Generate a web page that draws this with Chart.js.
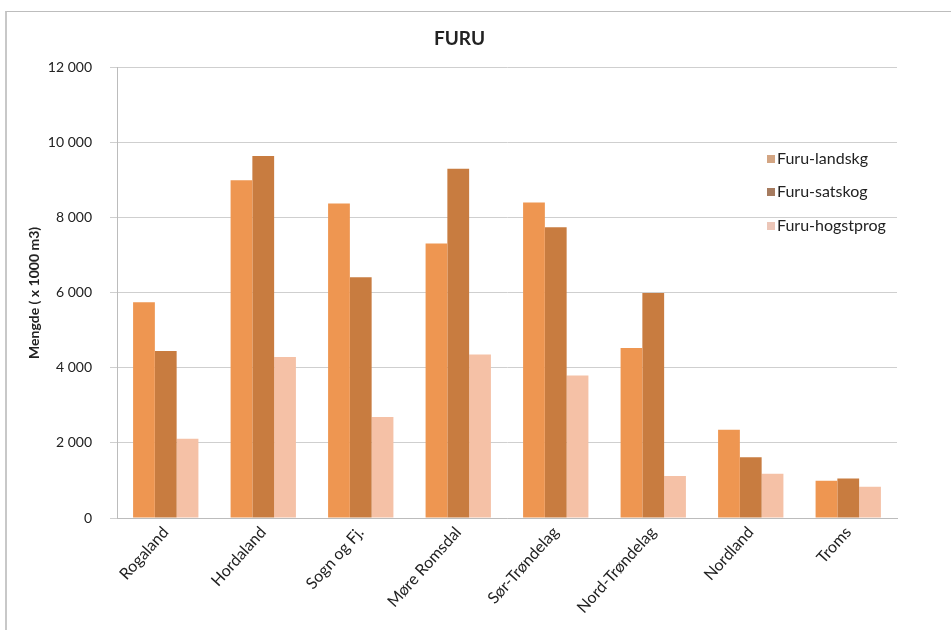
<!DOCTYPE html>
<html>
<head>
<meta charset="utf-8">
<script src="https://cdn.jsdelivr.net/npm/chart.js@4"></script>
<style>
  html, body { margin: 0; padding: 0; background: #fff; }
  #wrap { position: relative; width: 951px; height: 630px; }
  #frame { position: absolute; left: 5px; top: 11px; width: 946px; height: 619px;
           border-top: 1px solid #bdbdbd; border-left: 2px solid #c8c8c8; box-sizing: border-box; }
  canvas { position: absolute; left: 0; top: 0; }
</style>
</head>
<body>
<div id="wrap">
  <div id="frame"></div>
  <canvas id="chart" width="951" height="630"></canvas>
</div>
<script>
// FURU chart data
const fylker = ['Rogaland', 'Hordaland', 'Sogn og Fj.', 'Møre Romsdal', 'Sør-Trøndelag', 'Nord-Trøndelag', 'Nordland', 'Troms'];
const landskg = [5750, 9000, 8380, 7320, 8410, 4530, 2350, 990];
const satskog = [4450, 9650, 6420, 9310, 7750, 6000, 1620, 1050];
const hogstprog = [2110, 4290, 2690, 4360, 3800, 1120, 1180, 830];
const seriesNames = ['Furu-landskg', 'Furu-satskog', 'Furu-hogstprog'];
const yTicks = [0, 2000, 4000, 6000, 8000, 10000, 12000];

const barColors = ['#ee9651', '#c87c40', '#f5c1a6'];
const markerColors = ['#d3a583', '#a67b5f', '#ecc6b8'];
const fontFam = 'Lato, "Open Sans", sans-serif';

function spaced(v) {   // 12000 -> "12 000"
    return v.toString().replace(/\B(?=(\d{3})+(?!\d))/g, ' ');
}

// legend drawn inside the plot, like the original
const insideLegend = {
    id: 'insideLegend',
    afterDraw(chart) {
        const ctx = chart.ctx;
        const rows = [159, 192, 226];
        ctx.save();
        ctx.font = '16px ' + fontFam;
        ctx.textBaseline = 'middle';
        chart.data.datasets.forEach(function(ds, i) {
            ctx.fillStyle = markerColors[i];
            ctx.fillRect(767, rows[i] - 4, 8, 8);
            ctx.fillStyle = '#222';
            ctx.fillText(ds.label, 777, rows[i]);
        });
        ctx.restore();
    }
};

const ctx = document.getElementById('chart');
let furuChart = new Chart(ctx, {
    type: 'bar',
    data: {
        labels: fylker,
        datasets: [
            { label: seriesNames[0], data: landskg, backgroundColor: barColors[0] },
            { label: seriesNames[1], data: satskog, backgroundColor: barColors[1] },
            { label: seriesNames[2], data: hogstprog, backgroundColor: barColors[2] }
        ]
    },
    options: {
        responsive: false,
        animation: false,
        layout: { padding: { left: 22, right: 54, top: 10, bottom: 0 } },
        datasets: {
            bar: { categoryPercentage: 0.67, barPercentage: 1.0 }
        },
        plugins: {
            legend: { display: false },
            tooltip: { enabled: false },
            title: {
                display: true,
                text: 'FURU',
                color: '#222',
                font: { family: fontFam, size: 19, weight: 'bold' },
                padding: { top: 17, bottom: 18 }
            }
        },
        scales: {
            x: {
                grid: { display: false, drawTicks: false },
                border: { display: true, color: '#bcbcbc' },
                ticks: {
                    minRotation: 48, maxRotation: 48,
                    color: '#222',
                    padding: 5,
                    font: { family: fontFam, size: 16 }
                },
                afterFit: function(scale) { scale.height = 112; }
            },
            y: {
                min: 0, max: 12000,
                afterBuildTicks: function(scale) {
                    scale.ticks = yTicks.map(function(v) { return { value: v }; });
                },
                grid: { color: '#cfcfcf', tickLength: 7 },
                border: { display: true, color: '#bcbcbc' },
                ticks: {
                    color: '#222',
                    padding: 18,
                    font: { family: fontFam, size: 14 },
                    callback: function(v) { return spaced(v); }
                },
                title: {
                    display: true,
                    text: 'Mengde ( x 1000 m3)',
                    color: '#222',
                    padding: { top: 4, bottom: 4 },
                    font: { family: fontFam, size: 14, weight: 'bold' }
                },
                afterFit: function(scale) { scale.width = 95; }
            }
        }
    },
    plugins: [insideLegend]
});
</script>
</body>
</html>
